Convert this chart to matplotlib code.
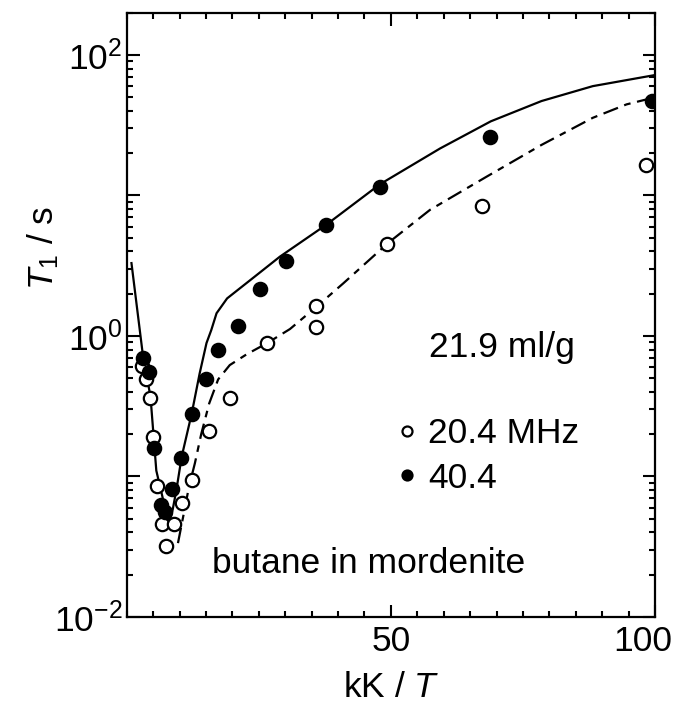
import matplotlib
matplotlib.use('Agg')
import matplotlib.pyplot as plt
import matplotlib.transforms as mtransforms
from matplotlib.ticker import FixedLocator, MultipleLocator, LogLocator, FuncFormatter, NullFormatter

plt.rcParams['font.family'] = ['Liberation Sans', 'DejaVu Sans']
plt.rcParams['mathtext.fontset'] = 'custom'
plt.rcParams['mathtext.rm'] = 'Liberation Sans'
plt.rcParams['mathtext.it'] = 'Liberation Sans:italic'

# measured points, 20.4 MHz (open) and 40.4 MHz (filled)
x_204 = [2.9, 3.6, 4.4, 4.9, 5.75, 6.6, 7.5, 8.9, 10.5, 12.4, 15.6, 19.5, 26.6, 35.8, 35.8, 49.2, 67.2, 98.2]
t1_204 = [0.61, 0.49, 0.36, 0.192, 0.085, 0.046, 0.032, 0.046, 0.065, 0.094, 0.21, 0.36, 0.89, 1.16, 1.64, 4.5, 8.4, 16.5]

x_404 = [3.1, 4.3, 5.1, 6.4, 7.2, 8.65, 10.2, 12.3, 15.0, 17.3, 21.1, 25.2, 30.1, 37.7, 47.9, 68.8, 99.5]
t1_404 = [0.70, 0.55, 0.16, 0.063, 0.056, 0.082, 0.136, 0.28, 0.49, 0.79, 1.18, 2.16, 3.4, 6.2, 11.4, 26.0, 47.0]

# calculated curves (solid: 40.4 MHz, dash-dot: 20.4 MHz)
x_fit404 = [0.9, 3.1, 4.5, 5.6, 6.9, 8.0, 8.7, 9.4, 10.4, 12.3, 13.8, 15.1, 16.0, 17.0, 19.0, 20.5,
            24.2, 29.0, 37.8, 47.9, 59.3, 68.9, 78.5, 88.2, 100]
t1_fit404 = [3.3, 0.71, 0.37, 0.11, 0.068, 0.046, 0.058, 0.08, 0.138, 0.28, 0.54, 0.89, 1.1, 1.45, 1.85, 2.05,
             2.64, 3.67, 6.2, 12.0, 21.6, 33.7, 47.0, 60.0, 72.0]

x_fit204 = [9.7, 10.7, 11.8, 12.9, 14.1, 15.6, 17.3, 19.5, 22.7, 26.6, 30.9, 35.8, 41.0, 49.5, 57.4,
            68.1, 78.5, 88.2, 94.6, 100]
t1_fit204 = [0.0335, 0.052, 0.085, 0.124, 0.20, 0.33, 0.49, 0.62, 0.74, 0.89, 1.12, 1.6, 2.37, 4.6, 7.9,
             13.6, 22.9, 35.7, 44.5, 50.0]

fs = 25.5

fig = plt.figure(figsize=(6.74, 7.05), dpi=100)
ax = fig.add_axes([0.188, 0.125, 0.784, 0.857])

ax.plot(x_fit404, t1_fit404, color='black', lw=1.6)
ax.plot(x_fit204, t1_fit204, color='black', lw=1.6, linestyle=(0, (7, 3, 3, 3)))
h_open, = ax.plot(x_204, t1_204, 'o', ms=9.6, mfc='white', mec='black', mew=1.6, linestyle='none')
h_fill, = ax.plot(x_404, t1_404, 'o', ms=9.6, mfc='black', mec='black', mew=1.6, linestyle='none')

ax.set_yscale('log')
ax.set_xlim(0, 100)
ax.set_ylim(0.01, 200)

ax.xaxis.set_major_locator(FixedLocator([50, 100]))
ax.xaxis.set_minor_locator(MultipleLocator(5))
ax.yaxis.set_major_locator(LogLocator(base=10, numticks=10))
ax.yaxis.set_minor_locator(LogLocator(base=10, subs=range(2, 10), numticks=20))
ax.yaxis.set_minor_formatter(NullFormatter())


def ylab(v, pos):
    import math
    e = int(round(math.log10(v)))
    if e % 2:
        return ''
    return r'$10^{%s}$' % ('\u2212%d' % -e if e < 0 else '%d' % e)


ax.yaxis.set_major_formatter(FuncFormatter(ylab))

ax.tick_params(which='both', direction='in', top=True, right=True, width=1.5, labelsize=fs)
ax.tick_params(which='major', length=9)
ax.tick_params(which='minor', length=4.5)
ax.tick_params(axis='x', pad=6)
ax.tick_params(axis='y', pad=3)
for s in ax.spines.values():
    s.set_linewidth(1.6)

# the "100" label sits a little left of its tick so it stays inside the figure
fig.canvas.draw()
lab100 = ax.get_xticklabels()[-1]
lab100.set_transform(lab100.get_transform() + mtransforms.ScaledTranslation(-12 / 100, 0, fig.dpi_scale_trans))

ax.set_xlabel(r'kK / $T$', fontsize=fs)
ax.xaxis.set_label_coords(0.5, -0.09)
ax.xaxis.label.set_va('top')
ax.set_ylabel(r'$T_1$ / s', fontsize=fs)
ax.yaxis.set_label_coords(-0.125, 0.611)

ax.text(0.572, 0.430, '21.9 ml/g', transform=ax.transAxes, fontsize=fs, va='baseline')
ax.text(0.161, 0.073, 'butane in mordenite', transform=ax.transAxes, fontsize=fs, va='baseline')

ax.legend([h_open, h_fill], ['20.4 MHz', '40.4'], loc='upper left', bbox_to_anchor=(0.51, 0.33),
          frameon=False, fontsize=fs, markerscale=0.75, handlelength=0.6, handletextpad=0.3,
          borderpad=0, borderaxespad=0, labelspacing=0.32)

fig.savefig('out.png', dpi=100)
